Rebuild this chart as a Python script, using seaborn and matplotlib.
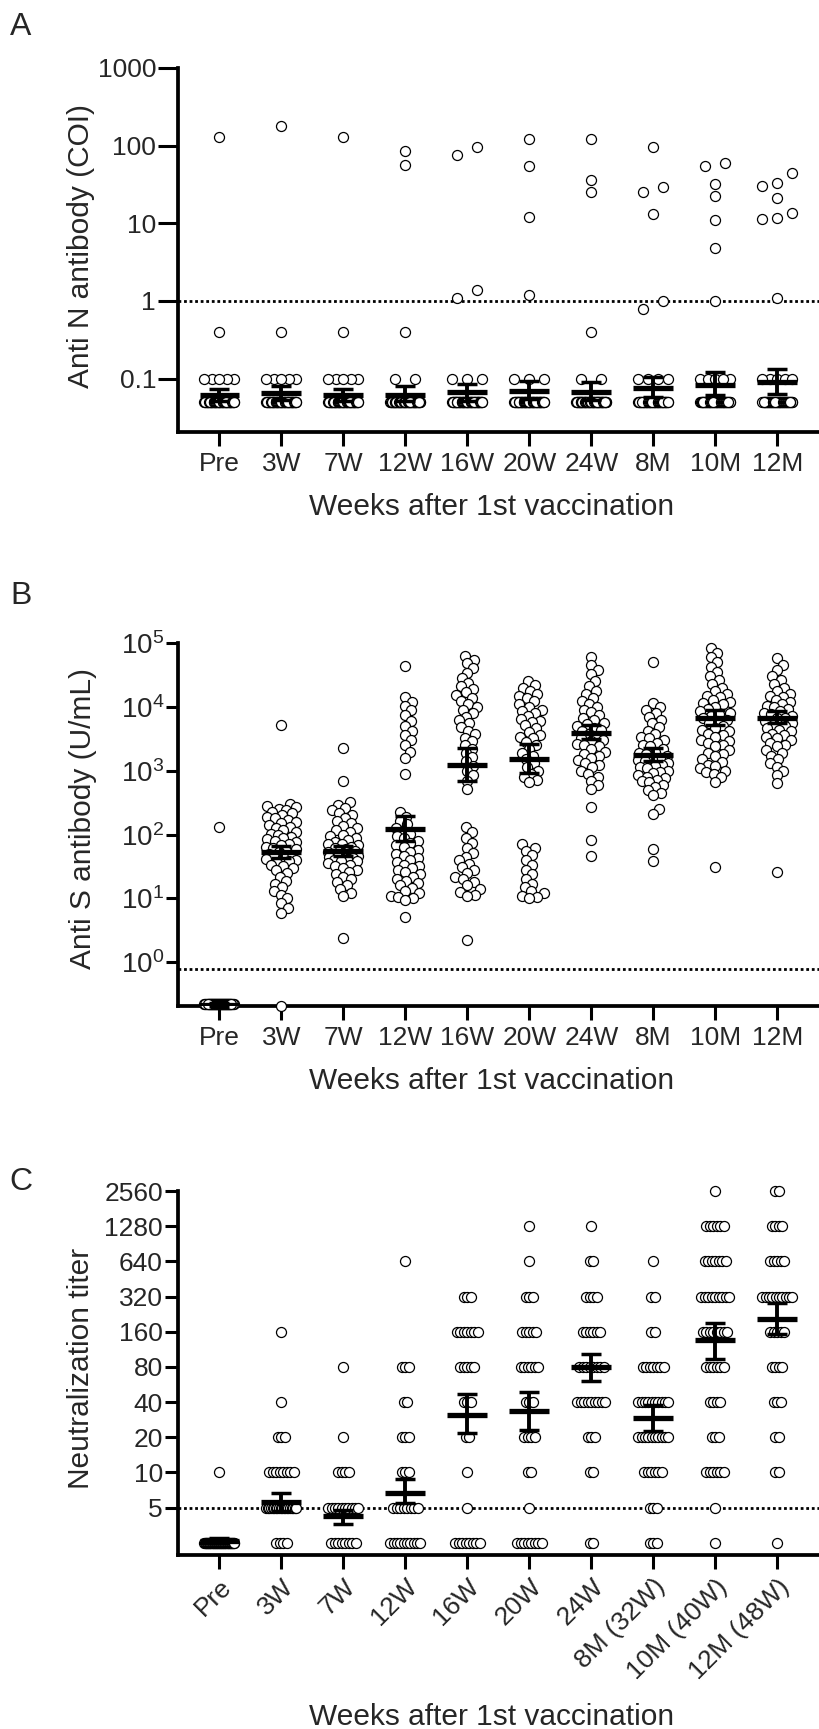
import numpy as np
import pandas as pd
import matplotlib
matplotlib.use("Agg")
import matplotlib.pyplot as plt
from matplotlib.ticker import NullLocator, FixedLocator, FixedFormatter
import seaborn as sns

# ---------------- data ----------------
groups = ["Pre", "3W", "7W", "12W", "16W", "20W", "24W", "8M", "10M", "12M"]
groups_c = ["Pre", "3W", "7W", "12W", "16W", "20W", "24W", "8M (32W)", "10M (40W)", "12M (48W)"]

# Panel A: anti-N antibody (COI)
anti_n_high = [
    [131, 0.4],
    [179, 0.4],
    [131, 0.4],
    [86, 56, 0.4],
    [97, 76, 1.37, 1.08],
    [122, 54, 12, 1.18],
    [120, 36, 25, 0.4],
    [97, 29, 25, 13, 1.0, 0.79],
    [60, 54, 32, 22.6, 11, 4.8, 1.0],
    [44, 33, 30, 21, 13.4, 11.8, 11.5, 1.09],
]
anti_n_n_at_0p1 = [5, 5, 5, 2, 3, 3, 2, 4, 5, 5]
anti_n_n_at_0p05 = [53, 53, 53, 55, 53, 53, 54, 50, 48, 47]
anti_n_gm = [0.061, 0.066, 0.061, 0.062, 0.067, 0.069, 0.068, 0.075, 0.084, 0.091]
anti_n_lo = [0.051, 0.053, 0.051, 0.051, 0.052, 0.055, 0.053, 0.058, 0.061, 0.064]
anti_n_hi = [0.073, 0.081, 0.073, 0.080, 0.086, 0.092, 0.091, 0.106, 0.122, 0.134]

# Panel B: anti-S antibody (U/mL)
anti_s_pre = [130] + [0.22] * 55
anti_s_3w = [5200, 300, 285, 270, 255, 240, 230, 215, 200, 190, 180, 170, 160, 150, 140, 132,
             125, 118, 110, 104, 98, 92, 88, 84, 80, 76, 72, 68, 65, 62, 59, 56, 53, 50, 48,
             46, 44, 42, 40, 38, 36, 34, 32, 30, 28, 25, 22, 19, 17, 15, 13, 11.5, 10, 8.5,
             7, 6, 0.205]
anti_s_7w = [2290, 690, 320, 290, 260, 240, 220, 200, 180, 165, 150, 138, 126, 116, 108, 100,
             94, 88, 82, 77, 72, 70, 68, 64, 61, 60, 58, 55, 54, 52, 50, 48, 47, 46, 44, 43,
             42, 40, 39, 38, 36, 34, 32, 30, 28, 26, 24, 22, 20, 18, 16, 14, 12, 11, 2.4]
anti_s_12w = [43000, 14500, 12000, 10500, 9000, 7500, 6000, 5000, 4200, 3600, 3000, 2500,
              2000, 1600, 900,
              224, 190, 165, 145, 128, 115, 104, 95, 88, 80, 74, 68, 63, 58, 54, 50, 46, 43,
              40, 37, 34, 32, 30, 28, 26, 24, 22, 20.5, 19, 17.5, 16, 14.5, 13, 12, 11, 10.5,
              10, 9.5, 5.2]
anti_s_16w = [62000, 55000, 48000, 40000, 34000, 28000, 24000, 21000, 19000, 17000, 15500,
              14000, 12500, 11000, 10000, 9000, 8000, 7000, 6200, 5500, 4800, 4200, 3700,
              3300, 2900, 2500, 2200, 1900, 1650, 1400, 1200, 1000, 850, 700, 525,
              130, 110, 90, 75, 62, 52, 45, 40, 35, 31, 28, 25, 22, 20, 18, 16, 14, 12.5,
              11.5, 11, 2.2]
anti_s_20w = [25000, 22000, 20000, 18000, 16000, 15000, 14000, 12500, 11000, 10000, 9000,
              8500, 8000, 7200, 6500, 6000, 5800, 5200, 4600, 4100, 3600, 3400, 3200, 2800,
              2500, 2200, 1900, 1700, 1500, 1300, 1150, 1000, 900, 800, 720, 665,
              70, 62, 55, 48, 40, 33, 28, 24, 20, 17, 15, 13, 12, 11, 10.5, 10]
anti_s_24w = [60000, 45000, 38000, 33000, 25000, 21000, 18000, 16000, 14000, 12500, 11000,
              10000, 9000, 8200, 7500, 6800, 6200, 5600, 5400, 5100, 4600, 4400, 4200, 3800,
              3500, 3200, 3000, 2900, 2600, 2500, 2400, 2200, 2000, 1800, 1700, 1600, 1450,
              1300, 1250, 1150, 1000, 900, 800, 700, 600, 520, 270, 81, 47]
anti_s_8m = [51000, 11400, 10000, 9000, 8000, 7000, 6200, 5500, 4800, 4200, 3800, 3400, 3200,
             3000, 2700, 2500, 2450, 2200, 2000, 1900, 1850, 1700, 1600, 1550, 1450, 1400,
             1300, 1250, 1200, 1150, 1100, 1000, 950, 920, 850, 800, 780, 720, 700, 660, 600,
             550, 500, 450, 410, 250, 210, 59, 39]
anti_s_10m = [84000, 70000, 60000, 50000, 42000, 35000, 30000, 26000, 23000, 20000, 18000,
              16000, 15000, 14500, 13000, 12000, 11500, 11000, 10000, 9200, 8500, 8000, 7800,
              7200, 6600, 6300, 6000, 5500, 5000, 4600, 4400, 4200, 3800, 3600, 3400, 3000,
              2900, 2700, 2500, 2400, 2100, 1900, 1800, 1700, 1500, 1350, 1250, 1200, 1100,
              1000, 950, 900, 800, 665, 31]
anti_s_12m = [58000, 45000, 38000, 30000, 26000, 23000, 20000, 18000, 16000, 15000, 14500,
              13000, 12000, 11000, 10500, 10000, 9200, 8500, 8000, 7800, 7200, 6800, 6600,
              6000, 5500, 5200, 5000, 4600, 4400, 4200, 3800, 3600, 3400, 3200, 3000, 2700,
              2500, 2400, 2100, 1900, 1700, 1500, 1300, 1150, 1000, 850, 640, 26]
anti_s_all = [anti_s_pre, anti_s_3w, anti_s_7w, anti_s_12w, anti_s_16w, anti_s_20w,
              anti_s_24w, anti_s_8m, anti_s_10m, anti_s_12m]
anti_s_gm = [0.215, 54, 56, 123, 1250, 1550, 3950, 1790, 6800, 6800]
anti_s_lo = [0.207, 42.5, 47, 78, 680, 925, 3090, 1410, 5200, 5500]
anti_s_hi = [0.228, 67.5, 67, 194, 2290, 2590, 5130, 2290, 8900, 8700]

# Panel C: neutralization titer (counts per titer level)
neut_levels = [2.5, 5, 10, 20, 40, 80, 160, 320, 640, 1280, 2560]
neut_counts = [
    [45, 0, 1, 0, 0, 0, 0, 0, 0, 0, 0],
    [4, 20, 8, 3, 1, 0, 1, 0, 0, 0, 0],
    [8, 10, 4, 1, 0, 1, 0, 0, 0, 0, 0],
    [10, 8, 3, 3, 2, 3, 0, 0, 1, 0, 0],
    [8, 1, 1, 2, 3, 5, 7, 3, 0, 0, 0],
    [8, 1, 2, 4, 3, 6, 5, 3, 1, 1, 0],
    [2, 0, 2, 3, 9, 8, 6, 4, 2, 1, 0],
    [3, 3, 6, 10, 10, 7, 2, 2, 1, 0, 0],
    [1, 1, 6, 3, 4, 6, 8, 9, 7, 6, 1],
    [1, 0, 2, 2, 3, 4, 5, 10, 5, 4, 2],
]
neut_gm = [2.6, 5.6, 4.2, 6.7, 31.2, 33.7, 79.6, 29.2, 135, 206]
neut_lo = [2.5, 4.7, 3.65, 5.45, 21.7, 23.2, 61, 22.8, 93, 152]
neut_hi = [2.75, 6.6, 4.75, 8.8, 47, 48.8, 104, 37.7, 191, 281]

# ---------------- style ----------------
sns.set_theme(style="ticks")
plt.rcParams["font.family"] = ["Liberation Sans", "DejaVu Sans"]
plt.rcParams["mathtext.fontset"] = "custom"
plt.rcParams["mathtext.rm"] = "Liberation Sans"
plt.rcParams["mathtext.it"] = "Liberation Sans:italic"
plt.rcParams["mathtext.bf"] = "Liberation Sans:bold"
plt.rcParams["mathtext.default"] = "regular"
plt.rcParams["axes.unicode_minus"] = False

DIAM = 10.5  # marker diameter in px
fig = plt.figure(figsize=(8.19, 17.29), dpi=100)
axA = fig.add_axes([0.2168, 0.7501, 0.7832, 0.2106])
axB = fig.add_axes([0.2168, 0.4180, 0.7832, 0.2101])
axC = fig.add_axes([0.2168, 0.1006, 0.7832, 0.2105])
XLIM = (-0.674, 9.674)

axA.set_yscale("log"); axA.set_xlim(*XLIM); axA.set_ylim(0.0205, 1000)
axB.set_yscale("log"); axB.set_xlim(*XLIM); axB.set_ylim(0.205, 1e5)
axC.set_yscale("log", base=2); axC.set_xlim(*XLIM); axC.set_ylim(1.96, 2560)


def ypix(ax, vals):
    v = np.asarray(vals, float)
    return ax.transData.transform(np.column_stack([np.zeros(len(v)), v]))[:, 1]


def px_per_unit(ax):
    a = ax.transData.transform([[0, 1], [1, 1]])
    return a[1, 0] - a[0, 0]


def row_offsets(yp, step, max_spread):
    n = len(yp)
    offs = np.zeros(n)
    order = np.argsort(yp)
    grps, cur = [], [order[0]]
    for a, b in zip(order[:-1], order[1:]):
        if yp[b] - yp[a] < DIAM:
            cur.append(b)
        else:
            grps.append(cur)
            cur = [b]
    grps.append(cur)
    for g in grps:
        k = len(g)
        if k > 1:
            spread = min((k - 1) * step, max_spread)
            offs[g] = np.linspace(-spread / 2, spread / 2, k)
    return offs


def swarm_offsets(yp, md, max_half):
    cands = [0.0]
    for d in np.arange(0.5, max_half + 0.01, 0.5):
        cands += [d, -d]
    cands = np.array(cands)
    n = len(yp)
    offs = np.zeros(n)
    px, py = [], []
    for i in np.argsort(yp, kind="stable"):
        y = yp[i]
        c = 0.0
        if px:
            PX = np.array(px); PY = np.array(py)
            near = np.abs(PY - y) < md
            if near.any():
                dx = cands[:, None] - PX[near][None, :]
                dy = (PY[near] - y)[None, :]
                d = np.sqrt(dx ** 2 + dy ** 2).min(axis=1)
                ok = d >= md - 1e-9
                c = cands[np.argmax(ok)] if ok.any() else cands[np.argmax(d)]
        offs[i] = c
        px.append(c); py.append(y)
    return offs


def draw_points(ax, values_per_group, mode):
    ppu = px_per_unit(ax)
    xs, ys = [], []
    for i, vals in enumerate(values_per_group):
        yp = ypix(ax, vals)
        if mode == "A":
            off = row_offsets(yp, 20, 30)
        elif mode == "C":
            off = row_offsets(yp, 3.5, 30)
        else:
            off = swarm_offsets(yp, 7.5, 15.0)
        xs.extend(i + off / ppu)
        ys.extend(vals)
    df = pd.DataFrame({"x": xs, "value": ys})
    sns.scatterplot(data=df, x="x", y="value", ax=ax, s=52, color="white",
                    edgecolor="black", linewidth=0.9, zorder=3, legend=False,
                    clip_on=False)


def draw_stats(ax, gm, lo, hi):
    for i, (g, l, h) in enumerate(zip(gm, lo, hi)):
        ax.errorbar(i, g, yerr=[[g - l], [h - g]], fmt="none", ecolor="black",
                    elinewidth=2.8, capsize=7.2, capthick=2.5, zorder=5, clip_on=False)
        ax.hlines(g, i - 0.32, i + 0.32, color="black", lw=3.8, zorder=5)


valsA = [h + [0.1] * a + [0.05] * b for h, a, b in zip(anti_n_high, anti_n_n_at_0p1, anti_n_n_at_0p05)]
valsC = []
for cnts in neut_counts:
    v = []
    for lev, c in zip(neut_levels, cnts):
        v += [lev] * c
    valsC.append(v)

for ax, vals, mode, cutoff in [(axA, valsA, "A", 1.0), (axB, anti_s_all, "B", 0.8), (axC, valsC, "C", 5)]:
    ax.axhline(cutoff, color="black", lw=2.0, ls=(0, (1.0, 1.0)), zorder=2)
    draw_points(ax, vals, mode)

draw_stats(axA, anti_n_gm, anti_n_lo, anti_n_hi)
draw_stats(axB, anti_s_gm, anti_s_lo, anti_s_hi)
draw_stats(axC, neut_gm, neut_lo, neut_hi)

axA.set_xlim(*XLIM); axA.set_ylim(0.0205, 1000)
axB.set_xlim(*XLIM); axB.set_ylim(0.205, 1e5)
axC.set_xlim(*XLIM); axC.set_ylim(1.96, 2560)

TICK_FS = 19
LABEL_FS = 21.5
for ax in (axA, axB, axC):
    ax.spines["top"].set_visible(False)
    ax.spines["right"].set_visible(False)
    ax.spines["left"].set_linewidth(2.7)
    ax.spines["bottom"].set_linewidth(2.7)
    ax.spines["left"].set_color("black")
    ax.spines["bottom"].set_color("black")
    ax.yaxis.set_minor_locator(NullLocator())
    ax.xaxis.set_minor_locator(NullLocator())
    ax.set_xticks(range(10))
    ax.tick_params(axis="x", length=10, width=2.2, pad=4, labelsize=TICK_FS, color="black")
    ax.tick_params(axis="y", width=2.2, pad=1, labelsize=TICK_FS, color="black")
    ax.grid(False)

axA.set_yticks([0.1, 1, 10, 100, 1000])
axA.set_yticklabels(["0.1", "1", "10", "100", "1000"])
axA.tick_params(axis="y", length=14.5)
axA.set_xticklabels(groups)

axB.yaxis.set_major_locator(FixedLocator([1, 10, 100, 1000, 1e4, 1e5]))
axB.yaxis.set_major_formatter(FixedFormatter([r"$10^{0}$", r"$10^{1}$", r"$10^{2}$",
                                              r"$10^{3}$", r"$10^{4}$", r"$10^{5}$"]))
axB.tick_params(axis="y", length=8.5, labelsize=20)
axB.set_xticklabels(groups)

cticks = [5, 10, 20, 40, 80, 160, 320, 640, 1280, 2560]
axC.yaxis.set_major_locator(FixedLocator(cticks))
axC.yaxis.set_major_formatter(FixedFormatter([str(t) for t in cticks]))
axC.tick_params(axis="y", length=9.5)
axC.set_xticklabels(groups_c, rotation=45, ha="right", rotation_mode="anchor")

ylabels = ["Anti N antibody (COI)", "Anti S antibody (U/mL)", "Neutralization titer"]
xlab_y = [-0.206, -0.2045, -0.445]
ylab_xy = [(-0.150, 0.51), (-0.147, 0.516), (-0.150, 0.512)]
xlab_x = (492 - 177.6) / 641.4
for ax, yl, xy, (lx, ly) in zip((axA, axB, axC), ylabels, xlab_y, ylab_xy):
    ax.set_xlabel("Weeks after 1st vaccination", fontsize=LABEL_FS)
    ax.xaxis.label.set_va("center")
    ax.xaxis.set_label_coords(xlab_x, xy)
    ax.set_ylabel(yl, fontsize=LABEL_FS)
    ax.yaxis.label.set_va("center")
    ax.yaxis.set_label_coords(lx, ly)

for letter, y in [("A", 1 - 26.8 / 1729), ("B", 1 - 595.7 / 1729), ("C", 1 - 1182 / 1729)]:
    fig.text(21 / 819, y, letter, fontsize=23, ha="center", va="center")

fig.savefig("out.png", dpi=100)
